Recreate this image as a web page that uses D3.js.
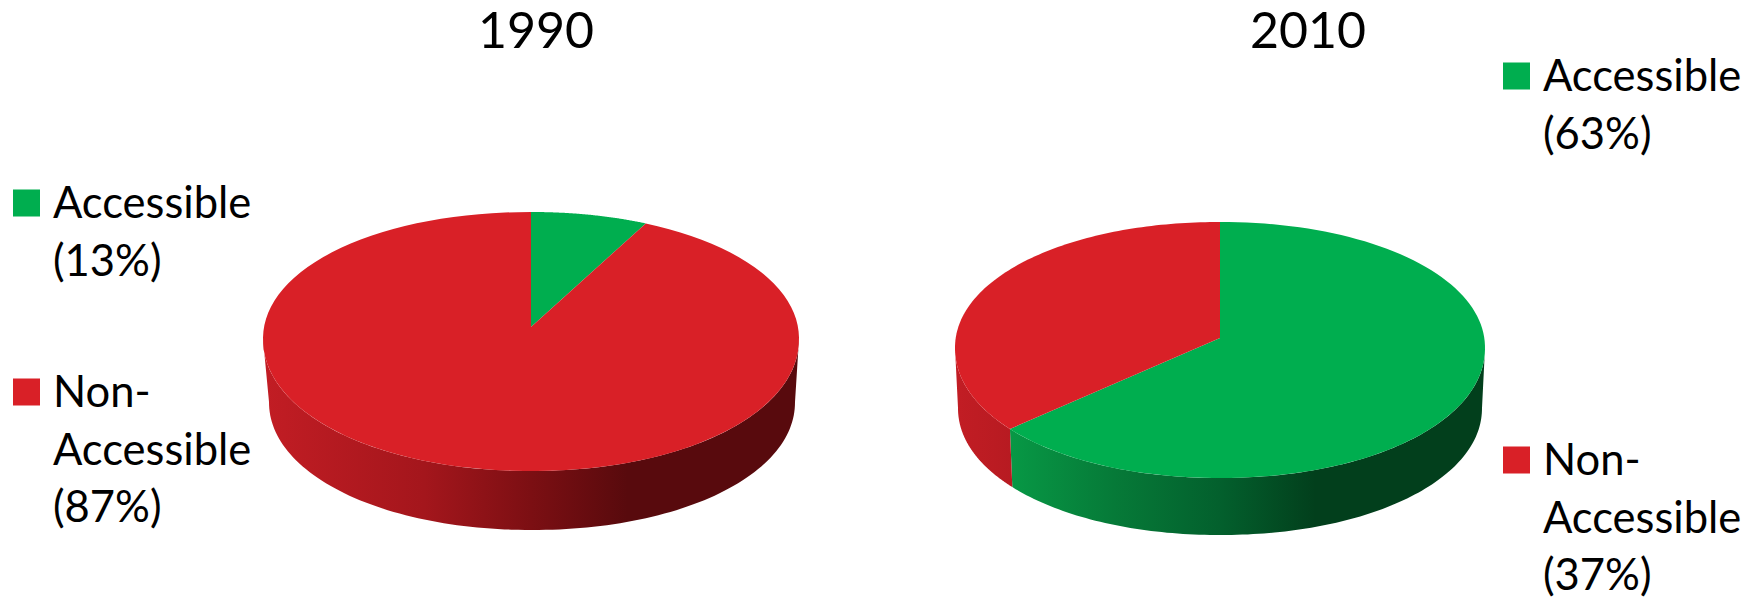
<!DOCTYPE html>
<html>
<head>
<meta charset="utf-8">
<script src="https://cdn.jsdelivr.net/npm/d3@7"></script>
<style>
  html, body { margin: 0; padding: 0; background: #fff; }
  svg { display: block; }
  text { font-family: Lato, sans-serif; fill: #000; }
</style>
</head>
<body>
<div class="container"></div>
<script>
// Data
const years = ["1990", "2010"];
const categories = ["Accessible", "Non-Accessible"];
const labelled1990 = [13, 87];
const labelled2010 = [63, 37];
// slice sizes as they are drawn in the picture (1990 slice is drawn smaller than its label)
const drawn1990 = [7, 93];
const drawn2010 = [64.4, 35.6];

const w = 1757;
const h = 599;

const green = "#00ae4f";
const red = "#d92027";
const rampStops = [0, 0.3, 0.5, 0.68, 1];
const sideRamps = {
  "Accessible": ["#08a84c", "#067a38", "#03602d", "#023f1c", "#023f1c"],
  "Non-Accessible": ["#c21d24", "#a4161c", "#7c0f13", "#580a0d", "#580a0d"]
};

// Layout of each pie
const pies = [
  {
    year: years[0], shares: drawn1990, labels: labelled1990,
    cx: 531, cy: 339, rx: 268, ry: 127, apexY: 327, lowRy: 132,
    bx: 532, by: 402, brx: 263, bry: 128,
    titleX: 536, titleY: 48,
    legendX: 13, legendTextX: 53,
    legendRows: [218, 407]
  },
  {
    year: years[1], shares: drawn2010, labels: labelled2010,
    cx: 1220, cy: 348, rx: 265, ry: 126, apexY: 338, lowRy: 130,
    bx: 1220, by: 408, brx: 262, bry: 127,
    titleX: 1308, titleY: 48,
    legendX: 1503, legendTextX: 1543,
    legendRows: [91, 475]
  }
];

const svg = d3.select(".container")
  .append("svg")
  .attr("width", w)
  .attr("height", h);

const defs = svg.append("defs");
const color = d3.scaleOrdinal().domain(categories).range([green, red]);
const pieLayout = d3.pie().sort(null).value(d => d.value);
const line = d3.line();

// point on a slightly rounded rim, angle 0 at the top, going clockwise
function rimPoint(a, x0, y0, rx, ryUp, ryDown) {
  const n = 2.05;
  const s = Math.sin(a), c = Math.cos(a);
  const r = Math.pow(Math.pow(Math.abs(s), n) + Math.pow(Math.abs(c), n), -1 / n);
  return [x0 + rx * r * s, y0 - (c > 0 ? ryUp : ryDown) * r * c];
}

pies.forEach((p, i) => {
  const g = svg.append("g");
  const data = categories.map((c, k) => ({ name: c, value: p.shares[k] }));
  const arcs = pieLayout(data);

  const topRim = a => rimPoint(a, p.cx, p.cy, p.rx, p.ry, p.lowRy);
  const botRim = a => rimPoint(a, p.bx, p.by, p.brx, p.bry, p.bry);
  const steps = (a0, a1) => d3.range(0, 121).map(t => a0 + (a1 - a0) * t / 120);

  // one gradient per category, running across the whole pie
  categories.forEach((c, k) => {
    const grad = defs.append("linearGradient")
      .attr("id", `side-${i}-${k}`)
      .attr("gradientUnits", "userSpaceOnUse")
      .attr("x1", p.cx - p.rx).attr("x2", p.cx + p.rx)
      .attr("y1", 0).attr("y2", 0);
    rampStops.forEach((o, j) => {
      grad.append("stop").attr("offset", o).attr("stop-color", sideRamps[c][j]);
    });
  });

  // side wall, only the part of each slice on the front half
  arcs.forEach((d, k) => {
    const a0 = Math.max(d.startAngle, Math.PI / 2);
    const a1 = Math.min(d.endAngle, Math.PI * 3 / 2);
    if (a1 <= a0) return;
    const pts = steps(a0, a1).map(topRim).concat(steps(a1, a0).map(botRim));
    g.append("path")
      .attr("d", line(pts) + "Z")
      .attr("fill", `url(#side-${i}-${k})`);
  });

  // top face
  arcs.forEach(d => {
    const pts = [[p.cx, p.apexY]].concat(steps(d.startAngle, d.endAngle).map(topRim));
    g.append("path")
      .attr("d", line(pts) + "Z")
      .attr("fill", color(d.data.name));
  });

  // title
  svg.append("text")
    .attr("x", p.titleX)
    .attr("y", p.titleY)
    .attr("text-anchor", "middle")
    .style("font-size", "50px")
    .text(p.year);

  // legend
  const lineGap = 57.5;
  const rows = [
    ["Accessible", `(${p.labels[0]}%)`],
    ["Non-", "Accessible", `(${p.labels[1]}%)`]
  ];
  rows.forEach((row, r) => {
    const base = p.legendRows[r];
    svg.append("rect")
      .attr("x", p.legendX)
      .attr("y", base - 28.5)
      .attr("width", 27)
      .attr("height", 27)
      .attr("fill", color(categories[r]));
    row.forEach((t, j) => {
      svg.append("text")
        .attr("x", p.legendTextX)
        .attr("y", base + j * lineGap)
        .style("font-size", "43.5px")
        .text(t);
    });
  });
});
</script>
</body>
</html>
